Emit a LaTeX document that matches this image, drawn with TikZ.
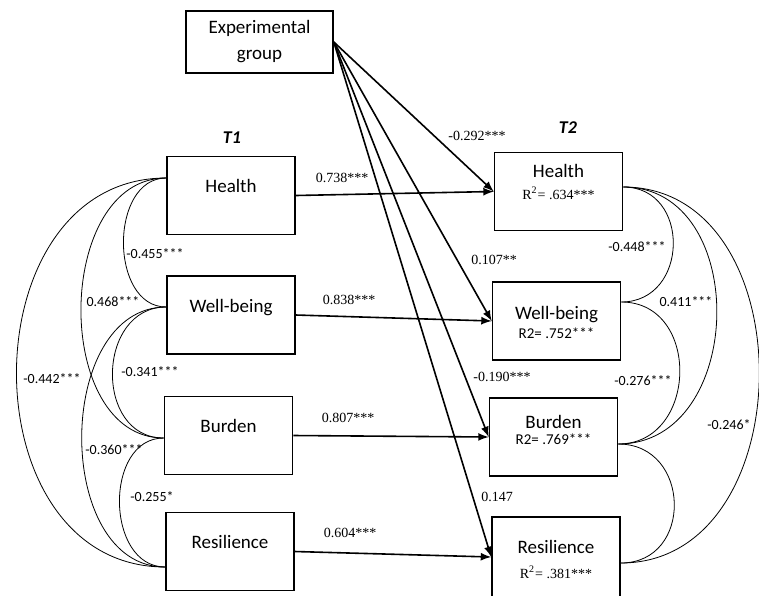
\documentclass[tikz,border=0pt]{standalone}
\usepackage{fontspec}
\setmainfont{Liberation Serif}
\setsansfont{Carlito}

\begin{document}
\begin{tikzpicture}[x=0.5pt,y=-0.5pt,
	boxnode/.style={draw,line width=0.8pt,minimum width=64pt,minimum height=39pt,inner sep=0pt},
	varname/.style={font=\sffamily\fontsize{9.5}{11}\selectfont,text height=6.5pt,text depth=0pt,inner sep=0pt},
	rsq/.style={font=\fontsize{7}{8}\selectfont,inner sep=0pt},
	rsqsans/.style={font=\sffamily\fontsize{7.5}{9}\selectfont,inner sep=0pt},
	coef/.style={font=\sffamily\fontsize{7}{8}\selectfont,inner sep=0pt},
	est/.style={font=\fontsize{7}{8}\selectfont,inner sep=0pt},
	wave/.style={font=\sffamily\bfseries\itshape\fontsize{9}{10}\selectfont,inner sep=0pt},
	corr/.style={line width=0.4pt},
	effect/.style={-latex,line width=0.8pt}]
	\useasboundingbox (0,0) rectangle (759,595);
	% boxes
	\node [boxnode,minimum width=73.5pt,minimum height=31pt,align=center,font=\sffamily\fontsize{9.5}{13}\selectfont] (exp) at (259.5,42) {Experimental\\group};
	\node [boxnode] (h1) at (231,195.5) {};
	\node [boxnode] (w1) at (231,315) {};
	\node [boxnode] (b1) at (228.5,435.5) {};
	\node [boxnode] (r1) at (230,551.5) {};
	\node [boxnode] (h2) at (558.5,191.5) {};
	\node [boxnode] (w2) at (556.5,321) {};
	\node [boxnode] (b2) at (553.5,437) {};
	\node [boxnode,minimum height=40pt] (r2) at (556,557) {};
	% box texts
	\node [wave] (t1) at (232,138) {T1};
	\node [wave] (t2) at (568,128) {T2};
	\node [varname] (h1t) at (231,186) {Health};
	\node [varname] (w1t) at (231,306) {Well-being};
	\node [varname] (b1t) at (228.5,426) {Burden};
	\node [varname] (r1t) at (230,542) {Resilience};
	\node [varname] (h2t) at (558.5,171) {Health};
	\node [rsq] (h2r) at (558.5,193) {R\textsuperscript{2}= .634***};
	\node [varname] (w2t) at (556.5,313) {Well-being};
	\node [rsqsans] (w2r) at (556.5,333) {R2= .752***};
	\node [varname] (b2t) at (553.5,422) {Burden};
	\node [rsqsans] (b2r) at (553.5,439) {R2= .769***};
	\node [varname] (r2t) at (556,547) {Resilience};
	\node [rsq] (r2r) at (556,572) {R\textsuperscript{2}= .381***};
	% correlations
	\coordinate (h1L) at ([yshift=8.75pt]h1.west);
	\coordinate (w1L) at ([yshift=4pt]w1.west);
	\coordinate (b1L) at ([yshift=-1.25pt]b1.west);
	\coordinate (r1L) at ([yshift=-7.75pt]r1.west);
	\coordinate (h2R) at ([yshift=2.25pt]h2.east);
	\coordinate (w2R) at ([yshift=9.5pt]w2.east);
	\coordinate (b2R) at ([yshift=-3.5pt]b2.east);
	\coordinate (r2R) at ([yshift=-3pt]r2.east);
	\draw [corr] (h1L) .. controls +(-57,0) and +(-57,0) .. (w1L);
	\draw [corr] (h1L) .. controls +(-112,0) and +(-112,0) .. (b1L);
	\draw [corr] (h1L) .. controls +(-199,0) and +(-199,0) .. (r1L);
	\draw [corr] (w1L) .. controls +(-70,0) and +(-70,0) .. (b1L);
	\draw [corr] (w1L) .. controls +(-112,0) and +(-112,0) .. (r1L);
	\draw [corr] (b1L) .. controls +(-60,0) and +(-60,0) .. (r1L);
	\draw [corr] (h2R) .. controls +(68,0) and +(68,0) .. (w2R);
	\draw [corr] (h2R) .. controls +(128,0) and +(128,0) .. (b2R);
	\draw [corr] (h2R) .. controls +(183,0) and +(183,0) .. (r2R);
	\draw [corr] (w2R) .. controls +(80,0) and +(80,0) .. (b2R);
	\draw [corr] (b2R) .. controls +(73,0) and +(73,0) .. (r2R);
	\node [coef] (chw1) at (155,254) {-0.455***};
	\node [coef] (chb1) at (113,302) {0.468***};
	\node [coef] (chr1) at (52,379) {-0.442***};
	\node [coef] (cwb1) at (150,372) {-0.341***};
	\node [coef] (cwr1) at (114,450) {-0.360***};
	\node [coef] (cbr1) at (152,497) {-0.255*};
	\node [coef] (chw2) at (637,247) {-0.448***};
	\node [coef] (chb2) at (686,302) {0.411***};
	\node [coef] (cwb2) at (643,381) {-0.276***};
	\node [coef,anchor=west] (chr2) at (707,425) {-0.246*};
	% paths
	\draw [effect] (h1.east) -- (h2.west);
	\draw [effect] (w1.east) -- (w2.west);
	\draw [effect] (b1.east) -- (b2.west);
	\draw [effect] (r1.east) -- (r2.west);
	\draw [effect] (exp.east) -- (h2.west);
	\draw [effect] (exp.east) -- (w2.west);
	\draw [effect] (exp.east) -- (b2.west);
	\draw [effect] (exp.east) -- (r2.west);
	\node [est] (eh) at (342,178) {0.738***};
	\node [est] (ew) at (349,300) {0.838***};
	\node [est] (eb) at (348,418) {0.807***};
	\node [est] (er) at (350,533) {0.604***};
	\node [est] (xh) at (477,136) {-0.292***};
	\node [est] (xw) at (494,260) {0.107**};
	\node [est] (xb) at (502,377) {-0.190***};
	\node [est] (xr) at (497,497) {0.147};
\end{tikzpicture}
\end{document}
